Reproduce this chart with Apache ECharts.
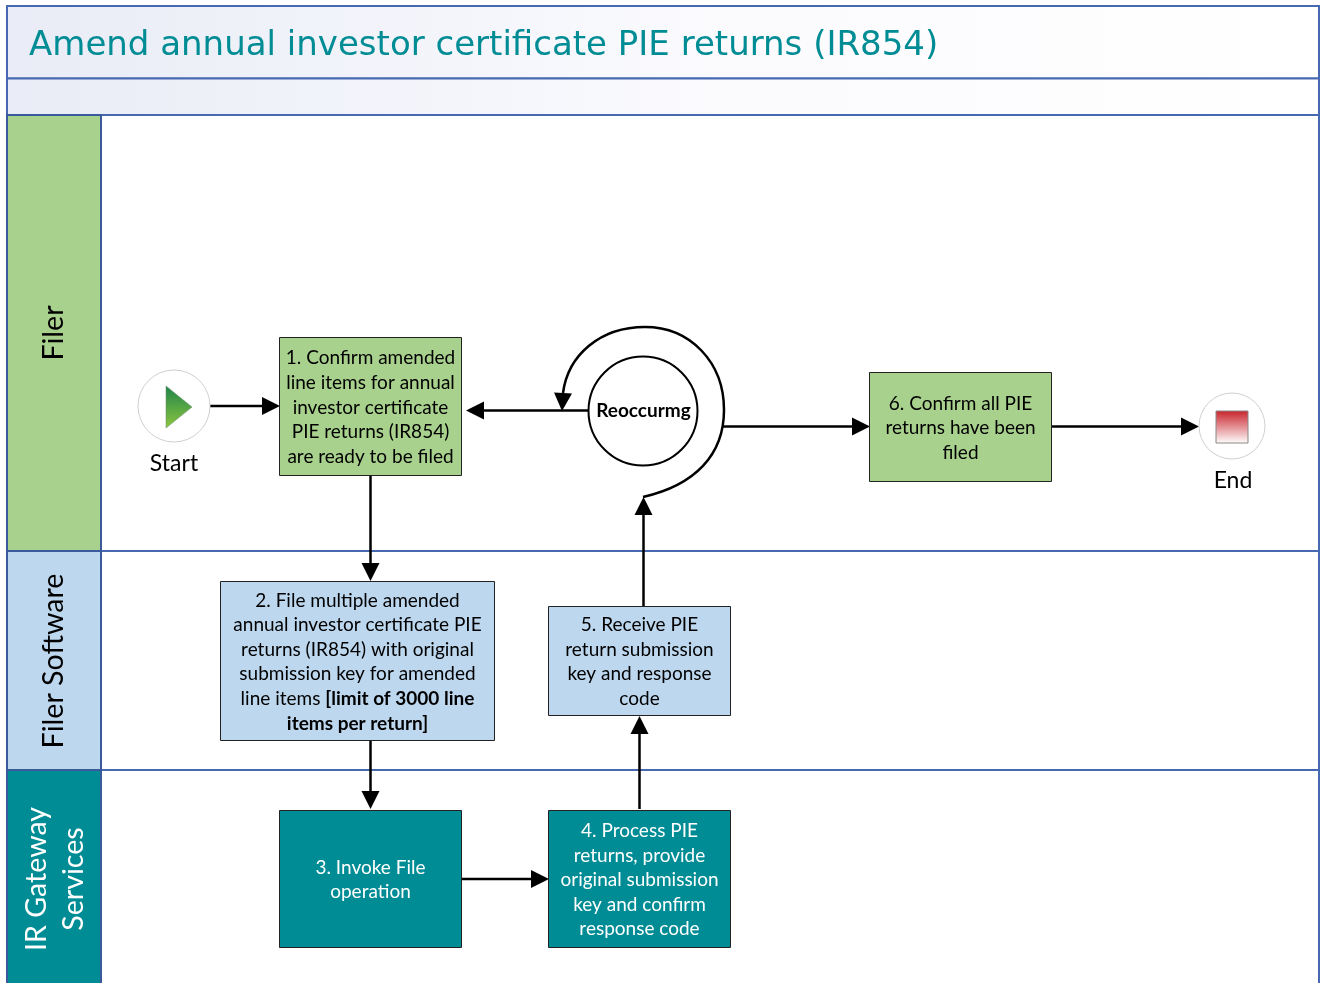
<!DOCTYPE html>
<html>
<head>
<meta charset="utf-8">
<title>Amend annual investor certificate PIE returns (IR854)</title>
<style>
  html, body { margin: 0; padding: 0; background: #fff; }
  #main { width: 1323px; height: 983px; }
</style>
<script src="https://cdn.jsdelivr.net/npm/echarts@6/dist/echarts.min.js"></script>
</head>
<body>
<div id="main"></div>
<script>
// texts
var titleText = 'Amend annual investor certificate PIE returns (IR854)';
var laneNames = ['Filer', 'Filer Software', 'IR Gateway\nServices'];
var stepLabels = [
  '1. Confirm amended\nline items for annual\ninvestor certificate\nPIE returns (IR854)\nare ready to be filed',
  '2. File multiple amended\nannual investor certificate PIE\nreturns (IR854) with original\nsubmission key for amended\nline items {b|[limit of 3000 line}\n{b|items per return]}',
  '3. Invoke File\noperation',
  '4. Process PIE\nreturns, provide\noriginal submission\nkey and confirm\nresponse code',
  '5. Receive PIE\nreturn submission\nkey and response\ncode',
  '6. Confirm all PIE\nreturns have been\nfiled'
];
var gatewayLabel = 'Reoccurmg';
var startLabel = 'Start';
var endLabel = 'End';

// layout, in page pixels: the axes below map them 1:1
// last lane runs off the bottom of the page, no closing border in the picture
var laneRows = [[115, 551], [551, 770], [770, 992]];
var laneLabelY = [333, 661, 879];
var laneLabelX = [53.5, 53.5, 55.5];
var laneFills = ['#A9D18E', '#BDD7EE', '#008C95'];
var laneTextColors = ['#000', '#000', '#fff'];
var stepBoxes = [
  [279.5, 337.5, 461.5, 475.5],
  [220.5, 581.5, 494.5, 740.5],
  [279.5, 810.5, 461.5, 947.5],
  [548.5, 810.5, 730.5, 947.5],
  [548.5, 606.5, 730.5, 715.5],
  [869.5, 372.5, 1051.5, 481.5]
];
var stepFills = ['#A9D18E', '#BDD7EE', '#008C95', '#008C95', '#BDD7EE', '#A9D18E'];
var stepColors = ['#000', '#000', '#fff', '#fff', '#000', '#000'];
var arrows = [
  [[210, 406], [280, 406]],
  [[589, 410.5], [466, 410.5]],
  [[370.5, 475], [370.5, 581]],
  [[370.5, 741], [370.5, 809]],
  [[461, 879], [549, 879]],
  [[639.5, 809], [639.5, 716]],
  [[643.5, 608], [643.5, 497]],
  [[723, 426.5], [870, 426.5]],
  [[1052, 426.5], [1199, 426.5]]
];
var loopPoints = [
  [643, 497], [695, 485], [724, 455], [724, 410],
  [724, 362], [690, 327], [645, 327],
  [600, 327], [568, 355], [563, 393]
];
var loopTip = [562, 411];

var BORDER = '#4669B2';
var FONT = 'Lato, "Noto Sans", sans-serif';

function c(api, p) { return api.coord(p); }

function arrowHead(api, from, to) {
  var a = c(api, from), b = c(api, to);
  var ang = Math.atan2(b[1] - a[1], b[0] - a[0]);
  var len = 18, half = 9;
  var bx = b[0] - Math.cos(ang) * len, by = b[1] - Math.sin(ang) * len;
  var nx = -Math.sin(ang) * half, ny = Math.cos(ang) * half;
  return {
    type: 'polygon',
    shape: { points: [b, [bx + nx, by + ny], [bx - nx, by - ny]] },
    style: { fill: '#000' }
  };
}

function renderFrame(params, api) {
  var tl = c(api, [7, 6]), br = c(api, [1319, 115]), mid = c(api, [7, 78.5]);
  var w = br[0] - tl[0];
  var bandFill = new echarts.graphic.LinearGradient(0, 0, 1, 0.1, [
    { offset: 0, color: '#E9ECF6' },
    { offset: 0.55, color: '#FBFBFE' },
    { offset: 1, color: '#FFFFFF' }
  ]);
  return {
    type: 'group',
    children: [
      { type: 'rect', shape: { x: tl[0], y: tl[1], width: w, height: mid[1] - tl[1] },
        style: { fill: bandFill, stroke: BORDER, lineWidth: 2 } },
      { type: 'rect', shape: { x: tl[0], y: mid[1], width: w, height: br[1] - mid[1] },
        style: { fill: bandFill, stroke: BORDER, lineWidth: 2 } },
      { type: 'text', x: 29, y: 46,
        style: { text: titleText, fill: '#008C95', font: '34px "DejaVu Sans"', verticalAlign: 'middle', align: 'left' } }
    ]
  };
}

function renderLane(params, api) {
  var i = params.dataIndex;
  var tl = c(api, [7, laneRows[i][0]]), br = c(api, [1319, laneRows[i][1]]);
  var hx = c(api, [101, 0])[0];
  return {
    type: 'group',
    children: [
      { type: 'rect', shape: { x: tl[0], y: tl[1], width: br[0] - tl[0], height: br[1] - tl[1] },
        style: { fill: '#fff', stroke: BORDER, lineWidth: 2 } },
      { type: 'rect', shape: { x: tl[0], y: tl[1], width: hx - tl[0], height: br[1] - tl[1] },
        style: { fill: laneFills[i], stroke: '#3A5A9C', lineWidth: 2 } },
      { type: 'text', x: laneLabelX[i], y: laneLabelY[i], rotation: Math.PI / 2,
        style: { text: laneNames[i], fill: laneTextColors[i], font: '28.6px ' + FONT,
          align: 'center', verticalAlign: 'middle', lineHeight: 37 } }
    ]
  };
}

function renderStep(params, api) {
  var i = params.dataIndex, b = stepBoxes[i];
  var tl = c(api, [b[0], b[1]]), br = c(api, [b[2], b[3]]);
  return {
    type: 'group',
    children: [
      { type: 'rect', shape: { x: tl[0], y: tl[1], width: br[0] - tl[0], height: br[1] - tl[1] },
        style: { fill: stepFills[i], stroke: '#222', lineWidth: 1 } },
      { type: 'text', x: (tl[0] + br[0]) / 2, y: (tl[1] + br[1]) / 2 + 1,
        style: { text: stepLabels[i], fill: stepColors[i], font: '19px ' + FONT,
          align: 'center', verticalAlign: 'middle', lineHeight: 24.6,
          rich: { b: { fontFamily: 'Lato', fontWeight: 'bold', fontSize: 19, lineHeight: 24.6, fill: stepColors[i] } } } }
    ]
  };
}

function renderArrow(params, api) {
  var a = arrows[params.dataIndex];
  var ang = Math.atan2(a[1][1] - a[0][1], a[1][0] - a[0][0]);
  var end = [a[1][0] - Math.cos(ang) * 14, a[1][1] - Math.sin(ang) * 14];
  return {
    type: 'group',
    children: [
      { type: 'line', shape: { x1: c(api, a[0])[0], y1: c(api, a[0])[1], x2: c(api, end)[0], y2: c(api, end)[1] },
        style: { stroke: '#000', lineWidth: 2.5 } },
      arrowHead(api, a[0], a[1])
    ]
  };
}

function renderLoop(params, api) {
  var p = loopPoints.map(function (q) { return c(api, q); });
  var kids = [];
  for (var i = 0; i + 3 < p.length; i += 3) {
    kids.push({
      type: 'bezierCurve',
      shape: {
        x1: p[i][0], y1: p[i][1],
        cpx1: p[i + 1][0], cpy1: p[i + 1][1],
        cpx2: p[i + 2][0], cpy2: p[i + 2][1],
        x2: p[i + 3][0], y2: p[i + 3][1]
      },
      style: { fill: null, stroke: '#000', lineWidth: 2.5 }
    });
  }
  kids.push(arrowHead(api, loopPoints[loopPoints.length - 1], loopTip));
  return { type: 'group', children: kids };
}

function renderEvents(params, api) {
  var s = c(api, [174, 406]), e = c(api, [1232, 426]), g = c(api, [643, 411]);
  return {
    type: 'group',
    children: [
      { type: 'circle', shape: { cx: s[0], cy: s[1], r: 36 }, style: { fill: '#fff', stroke: '#D0D0D0', lineWidth: 1 } },
      { type: 'polygon', shape: { points: [[166, 386], [192, 407], [166, 428]] },
        style: { stroke: '#6a8a6a', lineWidth: 0.5,
          fill: new echarts.graphic.LinearGradient(0, 0, 0, 1, [
            { offset: 0, color: '#1E8449' }, { offset: 1, color: '#8CC63F' }]) } },
      { type: 'text', x: 174, y: 464, style: { text: startLabel, fill: '#000', font: '23px ' + FONT, align: 'center', verticalAlign: 'middle' } },
      { type: 'circle', shape: { cx: e[0], cy: e[1], r: 33 }, style: { fill: '#fff', stroke: '#D0D0D0', lineWidth: 1 } },
      { type: 'rect', shape: { x: 1216, y: 411, width: 32, height: 32 },
        style: { stroke: '#888', lineWidth: 1,
          fill: new echarts.graphic.LinearGradient(0, 0, 0, 1, [
            { offset: 0, color: '#C8222A' }, { offset: 1, color: '#FFFFFF' }]) } },
      { type: 'text', x: 1233, y: 481, style: { text: endLabel, fill: '#000', font: '23px ' + FONT, align: 'center', verticalAlign: 'middle' } },
      { type: 'circle', shape: { cx: g[0], cy: g[1], r: 54.5 }, style: { fill: '#fff', stroke: '#000', lineWidth: 2 } },
      { type: 'text', x: g[0] + 0.5, y: g[1], style: { text: gatewayLabel, fill: '#000', font: 'bold 19px ' + FONT, align: 'center', verticalAlign: 'middle' } }
    ]
  };
}

function indexData(list) {
  return list.map(function (_, i) { return [i, 0]; });
}

function layer(renderItem, data, z) {
  return { type: 'custom', renderItem: renderItem, data: data, z: z, clip: false, silent: true, animation: false, encode: { x: 0, y: 1 } };
}

var chart = echarts.init(document.getElementById('main'), null, { renderer: 'canvas' });
chart.setOption({
  animation: false,
  backgroundColor: '#fff',
  tooltip: { show: false },
  grid: { left: 0, top: 0, right: 0, bottom: 0 },
  xAxis: { type: 'value', min: 0, max: 1323, show: false },
  yAxis: { type: 'value', min: 0, max: 983, inverse: true, show: false },
  series: [
    layer(renderFrame, [[0, 0]], 1),
    layer(renderLane, indexData(laneNames), 2),
    layer(renderArrow, indexData(arrows), 3),
    layer(renderLoop, [[0, 0]], 3),
    layer(renderStep, indexData(stepLabels), 4),
    layer(renderEvents, [[0, 0]], 5)
  ]
});
</script>
</body>
</html>
